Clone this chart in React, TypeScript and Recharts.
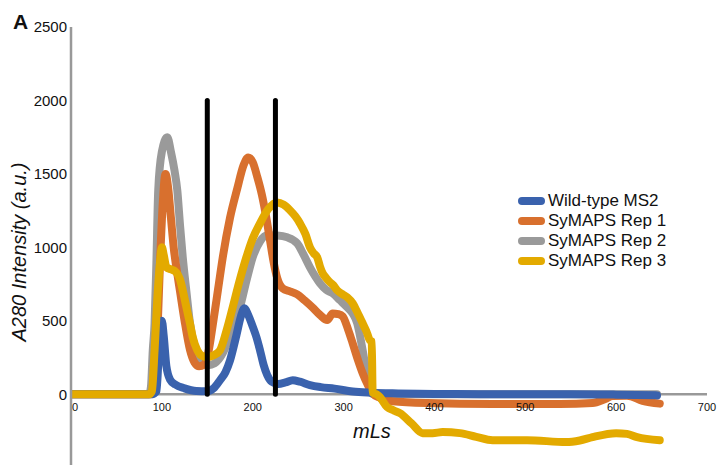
import React from 'react';
import { LineChart, Line, XAxis, YAxis, ReferenceLine, Legend } from 'recharts';

// [mL, A280] pairs
const wildTypeMS2: [number, number][] = [
    [0, 0], [50, 0], [90, 0], [94, 20], [96, 200], [98, 420], [100, 500], [102, 400], [105, 190],
    [109, 100], [115, 65], [125, 40], [138, 22], [150, 20], [157, 40], [164, 95], [170, 150],
    [175, 230], [182, 400], [187, 530], [191, 585], [195, 540], [200, 460], [204, 390], [208, 300],
    [212, 200], [216, 130], [221, 85], [228, 70], [236, 80], [244, 95], [252, 85], [263, 62],
    [275, 48], [290, 38], [310, 18], [330, 10], [360, 5], [400, 2], [450, 0], [550, 0], [600, -3],
    [645, -8],
];

const symapsRep1: [number, number][] = [
    [0, 0], [50, 0], [88, 0], [92, 100], [95, 400], [98, 900], [101, 1300], [104, 1500], [107, 1400],
    [110, 1200], [113, 1000], [117, 820], [120, 700], [125, 500], [131, 300], [136, 215], [141, 190],
    [146, 200], [151, 280], [156, 470], [162, 720], [167, 930], [175, 1200], [183, 1400], [190, 1560],
    [195, 1612], [200, 1580], [205, 1480], [210, 1360], [215, 1200], [219, 1050], [223, 900],
    [227, 790], [233, 720], [241, 700], [249, 680], [257, 640], [266, 590], [274, 540], [282, 505],
    [288, 550], [294, 545], [299, 530], [305, 440], [310, 347], [316, 230], [321, 143], [327, 60],
    [332, 5], [340, -25], [354, -48], [392, -60], [464, -66], [538, -66], [574, -60], [588, -32],
    [596, -12], [612, -10], [629, -45], [648, -64],
];

const symapsRep2: [number, number][] = [
    [0, 0], [50, 0], [86, 0], [88, 50], [90, 300], [92, 483], [94, 900], [96, 1388], [100, 1650],
    [106, 1750], [110, 1650], [114, 1520], [117, 1388], [120, 1150], [123, 932], [127, 700],
    [131, 483], [135, 350], [139, 279], [145, 220], [151, 197], [158, 210], [167, 279], [176, 420],
    [186, 592], [193, 770], [200, 932], [208, 1040], [216, 1082], [227, 1080], [238, 1068],
    [249, 1027], [256, 950], [263, 864], [269, 800], [274, 755], [281, 710], [288, 687], [296, 640],
    [304, 592], [310, 550], [315, 483], [318, 400], [321, 299], [325, 160], [329, 27], [333, 0],
    [400, 0], [645, 0],
];

const symapsRep3: [number, number][] = [
    [0, 0], [50, 0], [86, 0], [89, 20], [92, 300], [95, 650], [98, 900], [100, 1000], [102, 950],
    [105, 864], [110, 850], [114, 840], [117, 820], [120, 780], [124, 680], [127, 592], [131, 480],
    [134, 388], [139, 300], [144, 262], [150, 252], [157, 265], [164, 299], [171, 430], [178, 592],
    [185, 760], [193, 932], [200, 1060], [208, 1163], [217, 1260], [227, 1306], [234, 1290],
    [241, 1252], [247, 1210], [252, 1163], [258, 1090], [263, 1000], [267, 960], [271, 932],
    [274, 870], [277, 823], [281, 790], [285, 762], [289, 740], [293, 707], [299, 680], [304, 660],
    [310, 619], [315, 560], [321, 483], [325, 430], [329, 367], [331, 360], [332, 10], [336, 0],
    [340, -20], [348, -88], [355, -110], [362, -129], [375, -200], [387, -265], [398, -265],
    [409, -258], [428, -265], [446, -290], [464, -313], [502, -313], [545, -326], [560, -315],
    [574, -292], [600, -265], [612, -270], [623, -292], [648, -313],
];

const xTicks = [0, 100, 200, 300, 400, 500, 600, 700];
const yTicks = [0, 500, 1000, 1500, 2000, 2500];
const fractionCuts = [150, 225];
const cutTop = 2000;

const series = [
    { name: 'Wild-type MS2', color: '#3a62ad', points: wildTypeMS2 },
    { name: 'SyMAPS Rep 1', color: '#d8702e', points: symapsRep1 },
    { name: 'SyMAPS Rep 2', color: '#9a9a9a', points: symapsRep2 },
    { name: 'SyMAPS Rep 3', color: '#e3aa00', points: symapsRep3 },
];
// gray sits underneath, yellow on top
const drawOrder = ['SyMAPS Rep 2', 'SyMAPS Rep 1', 'Wild-type MS2', 'SyMAPS Rep 3'];

const W = 718;
const H = 466;
const TOP = 27;
const X_AXIS_H = 1;
const Y_MIN = -482;
const Y_MAX = 2500;
const ZERO_Y = TOP + ((H - X_AXIS_H - TOP) * Y_MAX) / (Y_MAX - Y_MIN);
const font = '"Liberation Sans", Arial, sans-serif';

const renderXTick = (props: any) => {
    const { x, payload } = props;
    return (
        <text
            key={payload.value}
            x={x + (payload.value === 0 ? 4 : 0)}
            y={ZERO_Y + 17}
            textAnchor="middle"
            fontSize={11}
            fill="#111"
        >
            {payload.value}
        </text>
    );
};

const LegendBox = () => (
    <div style={{ fontFamily: font, fontSize: 17, color: '#111' }}>
        {series.map((s) => (
            <div key={s.name} style={{ display: 'flex', alignItems: 'center', height: 20, whiteSpace: 'nowrap' }}>
                <span style={{ display: 'inline-block', width: 27, height: 8, borderRadius: 4, background: s.color, marginRight: 3 }} />
                {s.name}
            </div>
        ))}
    </div>
);

export default function App() {
    return (
        <div style={{ position: 'absolute', left: 0, top: 0, width: W, height: H, overflow: 'hidden', background: '#fff' }}>
            <LineChart width={W} height={H} margin={{ top: TOP, right: 11, bottom: 0, left: 0 }} style={{ fontFamily: font }}>
                <XAxis
                    dataKey="x"
                    type="number"
                    domain={[0, 700]}
                    ticks={xTicks}
                    interval={0}
                    height={X_AXIS_H}
                    axisLine={false}
                    tickLine={false}
                    tick={renderXTick}
                    allowDataOverflow
                />
                <YAxis
                    type="number"
                    domain={[Y_MIN, Y_MAX]}
                    ticks={yTicks}
                    width={71}
                    allowDataOverflow
                    tickLine={false}
                    tickSize={0}
                    tickMargin={4}
                    axisLine={{ stroke: '#999', strokeWidth: 2.5 }}
                    tick={{ fill: '#111', fontSize: 15 }}
                    label={() => (
                        <text
                            transform="translate(21, 252) rotate(-90)"
                            textAnchor="middle"
                            dominantBaseline="middle"
                            fontSize={20}
                            fontStyle="italic"
                            fill="#111"
                        >
                            A280 Intensity (a.u.)
                        </text>
                    )}
                />
                <ReferenceLine y={0} stroke="#999" strokeWidth={2.5} />
                {drawOrder.map((name) => {
                    const s = series.find((d) => d.name === name)!;
                    return (
                        <Line
                            key={s.name}
                            name={s.name}
                            data={s.points.map(([x, y]) => ({ x, y }))}
                            dataKey="y"
                            type="monotone"
                            stroke={s.color}
                            strokeWidth={8}
                            strokeLinecap="round"
                            strokeLinejoin="round"
                            dot={false}
                            activeDot={false}
                            isAnimationActive={false}
                        />
                    );
                })}
                {fractionCuts.map((c) => (
                    <ReferenceLine
                        key={c}
                        segment={[{ x: c, y: 0 }, { x: c, y: cutTop }]}
                        stroke="#000"
                        strokeWidth={5}
                        strokeLinecap="round"
                    />
                ))}
                <Legend
                    layout="horizontal"
                    verticalAlign="middle"
                    align="center"
                    content={<LegendBox />}
                    wrapperStyle={{ left: 518, top: 191, width: 190 }}
                />
            </LineChart>
            <div style={{ position: 'absolute', left: 13, top: 11, fontFamily: font, fontWeight: 'bold', fontSize: 21, lineHeight: '21px', color: '#111' }}>
                A
            </div>
            <div style={{ position: 'absolute', left: 353, top: 421, fontFamily: font, fontStyle: 'italic', fontSize: 20, lineHeight: '20px', color: '#111' }}>
                mLs
            </div>
        </div>
    );
}
